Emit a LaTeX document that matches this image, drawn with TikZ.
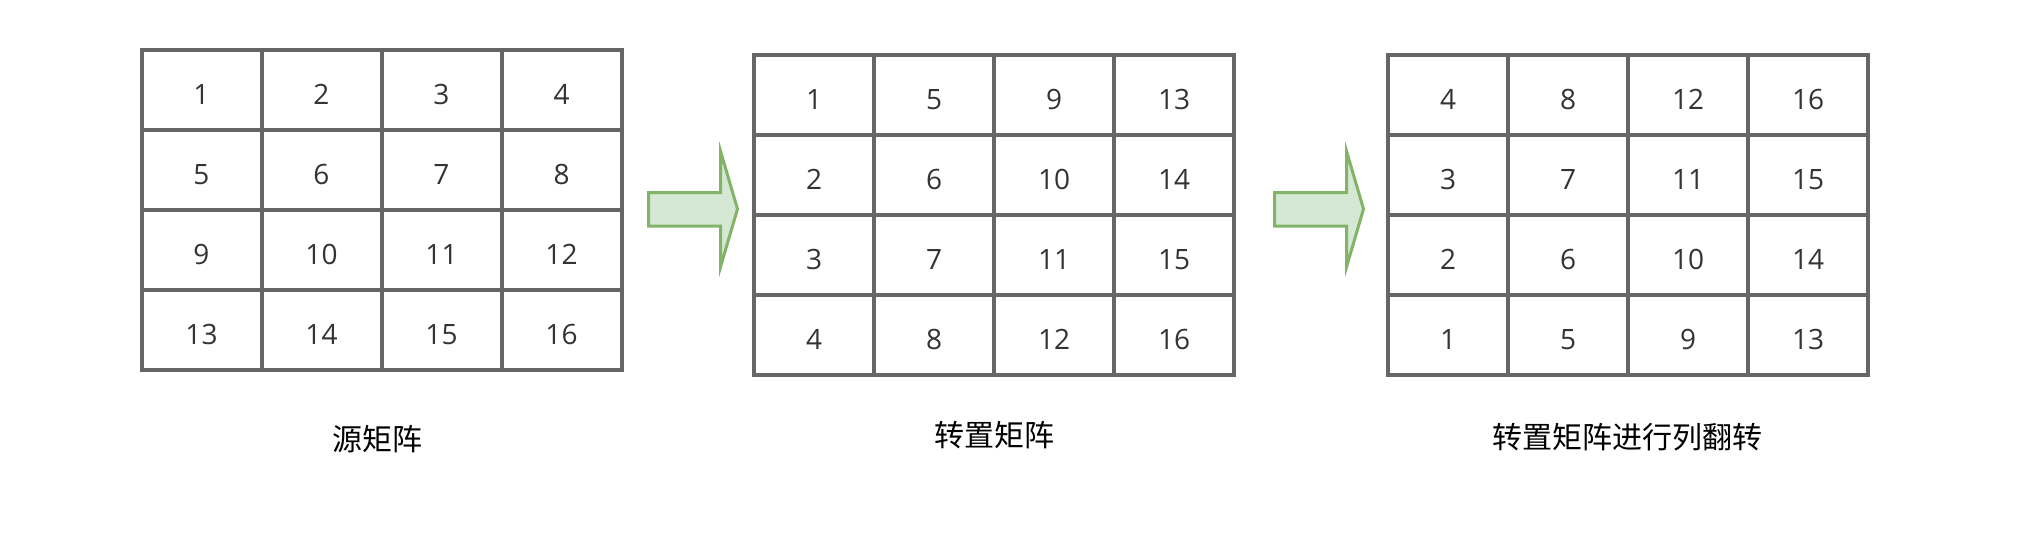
\documentclass[tikz,border=0pt]{standalone}
\usepackage{fontspec}
\setmainfont{Open Sans}
\newfontfamily\cjk{Noto Sans CJK SC}

\definecolor{gridgray}{HTML}{666666}
\definecolor{numgray}{HTML}{333333}
\definecolor{arrowfill}{HTML}{D5E8D4}
\definecolor{arrowline}{HTML}{82B366}

\tikzset{
  cell/.style={draw=gridgray,line width=4pt,minimum width=120pt,minimum height=80pt,
    inner sep=0pt,text=numgray,text height=29pt,text depth=0pt,
    font=\fontsize{28}{28}\selectfont},
  caption/.style={font=\cjk\fontsize{30}{30}\selectfont,text=black},
  bigarrow/.style={draw=arrowline,fill=arrowfill,line width=3pt}
}

\begin{document}
\begin{tikzpicture}[x=1pt,y=-1pt]
\useasboundingbox (0,0) rectangle (2022,544);

% source matrix
\foreach \i in {0,...,3}
  \foreach \j in {0,...,3}{
    \pgfmathtruncatemacro{\v}{4*\i+\j+1}
    \node[cell](S\i\j) at (201.5+120*\j,90+80*\i){\v};
  }

% transposed matrix
\foreach \i in {0,...,3}
  \foreach \j in {0,...,3}{
    \pgfmathtruncatemacro{\v}{4*\j+\i+1}
    \node[cell](T\i\j) at (814+120*\j,94.5+80*\i){\v};
  }

% transposed, columns flipped
\foreach \i in {0,...,3}
  \foreach \j in {0,...,3}{
    \pgfmathtruncatemacro{\v}{4*\j+(3-\i)+1}
    \node[cell](F\i\j) at (1448+120*\j,94.5+80*\i){\v};
  }

% arrows between the matrices
\foreach \dx in {0,626}{
  \draw[bigarrow,shift={(\dx,0)}] (648.5,192.5) -- (720.5,192.5) -- (720.5,151)
    -- (737.5,209) -- (720.5,267) -- (720.5,226) -- (648.5,226) -- cycle;
}

\node[caption](capS) at (377.5,439){源矩阵};
\node[caption](capT) at (994,435){转置矩阵};
\node[caption](capF) at (1627,437){转置矩阵进行列翻转};

\end{tikzpicture}
\end{document}
